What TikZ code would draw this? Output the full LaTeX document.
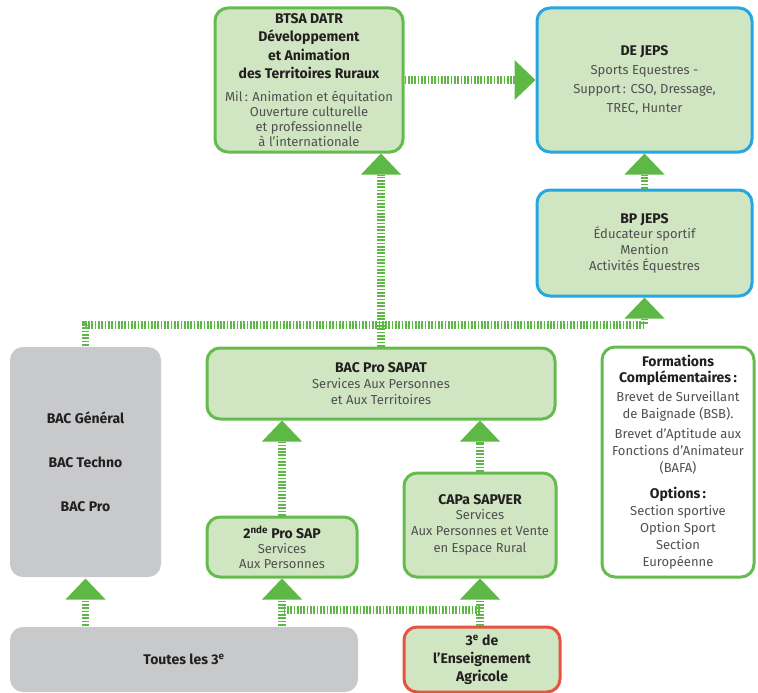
\documentclass[tikz,border=0pt]{standalone}
\usepackage{fontspec}
\setmainfont{Fira Sans}
\usetikzlibrary{arrows.meta}
\definecolor{gfill}{HTML}{D0E5C2}
\definecolor{gline}{HTML}{66BB4E}
\definecolor{arrowg}{HTML}{5DB846}
\definecolor{bline}{HTML}{25A7E1}
\definecolor{grayf}{HTML}{C8C9CB}
\definecolor{redl}{HTML}{E8533F}
\definecolor{txtd}{HTML}{231F20}
\definecolor{txts}{HTML}{505050}
\newcommand\hdf{\fontsize{14}{17}\selectfont\bfseries\color{txtd}}
\newcommand\bdf{\fontsize{13}{15}\selectfont\color{txts}}
\begin{document}
\begin{tikzpicture}[x=1pt,y=-1pt,
  box/.style={rectangle, rounded corners=13pt, line width=3pt, inner sep=0pt,
    align=center, font=\bdf},
  gbox/.style={box, draw=gline, fill=gfill},
  bbox/.style={box, draw=bline, fill=gfill},
  wbox/.style={box, draw=gline, fill=white},
  rbox/.style={box, draw=redl, fill=gfill},
  graybox/.style={box, fill=grayf, draw=none},
  conn/.style={draw=arrowg, line width=7.5pt, dash pattern=on 1.7pt off 1.6pt},
  tip/.style={-{Triangle[length=21pt,width=40pt,line width=0pt]}, arrowg}
]
\useasboundingbox (0,0) rectangle (758,693);

\node[gbox, minimum width=188pt, minimum height=144pt] (btsa) at (309,80)
  {{\hdf BTSA DATR}\\[3.3pt]{\hdf Développement}\\[3.3pt]{\hdf et Animation}\\[3.3pt]{\hdf des Territoires Ruraux}\\[8pt]
   Mil\,: Animation et équitation\\Ouverture culturelle\\et professionnelle\\à l’internationale};

\node[bbox, minimum width=215pt, minimum height=144pt] (dejeps) at (644.5,80)
  {{\hdf DE JEPS}\\[4pt]Sports Equestres -\\[4pt]Support\,: CSO, Dressage,\\[4pt]TREC, Hunter};

\node[bbox, minimum width=215pt, minimum height=106pt] (bpjeps) at (644.5,243)
  {{\hdf BP JEPS}\\Éducateur sportif\\[1pt]Mention\\[1pt]Activités Équestres};

\node[graybox, minimum width=151pt, minimum height=230pt, font=\hdf] (bacg) at (85.5,462)
  {BAC Général\\[27pt]BAC Techno\\[27pt]BAC Pro};

\node[gbox, minimum width=348pt, minimum height=71pt] (sapat) at (381,383.5)
  {{\hdf BAC Pro SAPAT}\\[1pt]Services Aux Personnes\\[1pt]et Aux Territoires};

\node[wbox, minimum width=152pt, minimum height=230pt] (form) at (678,462)
  {{\hdf Formations}\\[1pt]{\hdf Complémentaires\,:}\\[4pt]
   Brevet de Surveillant\\[2pt]de Baignade (BSB).\\[5pt]
   Brevet d’Aptitude aux\\[2pt]Fonctions d’Animateur\\[2pt](BAFA)\\[11pt]
   {\hdf Options\,:}\\[2pt]Section sportive\\[2pt]Option Sport\\[2pt]Section\\[2pt]Européenne};

\node[gbox, minimum width=150pt, minimum height=60pt] (sec) at (282,547)
  {{\hdf 2\textsuperscript{nde} Pro SAP}\\Services\\Aux Personnes};

\node[gbox, minimum width=152pt, minimum height=104pt] (capa) at (480,525)
  {{\hdf CAPa SAPVER}\\Services\\[1pt]Aux Personnes et Vente\\[2pt]en Espace Rural};

\node[graybox, minimum width=348pt, minimum height=65pt, font=\hdf] (toutes) at (184,659.5)
  {Toutes les 3\textsuperscript{e}};

\node[rbox, minimum width=156pt, minimum height=65pt, font=\hdf] (agri) at (482,659.5)
  {3\textsuperscript{e} de\\[1pt]l’Enseignement\\[1pt]Agricole};

% connectors
\coordinate (hl) at (0,325);
\coordinate (jn) at (0,610);
\draw[conn, tip] (btsa.east) -- (dejeps.west);
\draw[conn, tip] (bpjeps.north) -- (dejeps.south);
\draw[conn, tip] (sapat.north) -- (sapat.north |- btsa.south);
\draw[conn, tip] (bacg.north) -- (bacg.north |- hl) -- (bpjeps.south |- hl) -- (bpjeps.south);
\draw[conn, tip] (sec.north) -- (sec.north |- sapat.south);
\draw[conn, tip] (capa.north) -- (capa.north |- sapat.south);
\draw[conn, tip] (bacg.south |- toutes.north) -- (bacg.south);
\draw[conn, tip] (sec.south |- toutes.north) -- (sec.south);
\draw[conn, tip] (capa.south |- agri.north) -- (capa.south);
\draw[conn] (capa.south |- jn) -- (sec.south |- jn);
\end{tikzpicture}
\end{document}
